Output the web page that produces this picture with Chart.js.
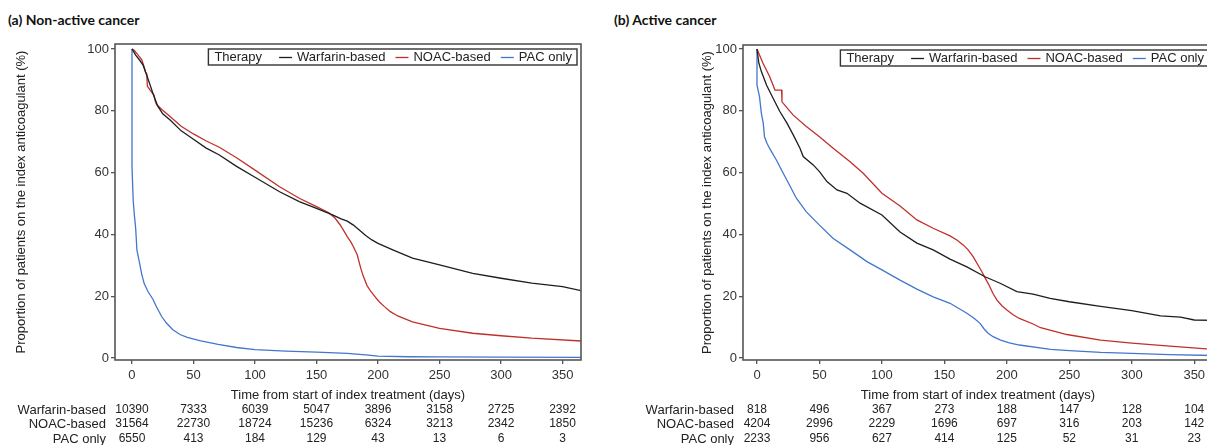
<!DOCTYPE html>
<html>
<head>
<meta charset="utf-8">
<script src="https://cdn.jsdelivr.net/npm/chart.js@4"></script>
<style>
    html, body { margin: 0; padding: 0; background: #fff; overflow: hidden; width: 1207px; height: 445px; }
    .panel-title { position: absolute; top: 11px; font: bold 14px Lato, sans-serif; color: #111; }
    canvas { position: absolute; top: 0; }
</style>
</head>
<body>
<div class="panel-title" style="left: 8px;">(a) Non-active cancer</div>
<div class="panel-title" style="left: 614px;">(b) Active cancer</div>
<canvas id="chartA" width="600" height="445" style="left: 0;"></canvas>
<canvas id="chartB" width="630" height="445" style="left: 600px;"></canvas>
<script>
// =============================================================================
// 데이터
// =============================================================================
const seriesLabels = ["Warfarin-based", "NOAC-based", "PAC only"];
const seriesColors = ["#1e1e1e", "#c0302b", "#4277cc"];
const legendTitle = "Therapy";

const dayTicks = [0, 50, 100, 150, 200, 250, 300, 350];
const pctTicks = [0, 20, 40, 60, 80, 100];

// (a) Non-active cancer
const aWarfarinDays = [0, 3, 6, 9, 12, 15, 18, 21, 25, 31, 40, 50, 60, 71, 85, 100, 120, 136, 150, 163, 170, 175, 180, 185, 190, 195, 200, 212, 228, 250, 277, 300, 325, 350, 365];
const aWarfarinPct  = [100, 98, 96.5, 94.8, 91.5, 88, 84.5, 81.5, 79, 77, 73.5, 70.8, 68, 65.7, 62, 58.5, 53.8, 50.6, 48.4, 46.3, 45, 44.3, 43, 41.3, 39.6, 38.2, 37.1, 35, 32.3, 30.1, 27.4, 25.8, 24.2, 23.1, 21.8];

const aNoacDays = [0, 2, 4, 6, 8, 10, 11, 12, 12.5, 15, 18, 19, 20, 24, 30, 40, 50, 60, 71, 85, 100, 120, 136, 150, 160, 165, 169, 172, 175, 178, 180, 183, 186, 188, 191, 194, 198, 201, 205, 210, 216, 228, 250, 277, 300, 325, 365];
const aNoacPct  = [100, 99.5, 98.5, 97.5, 96.5, 94, 92.5, 92, 88, 86.5, 85, 83, 82, 80.5, 78.5, 75, 72.5, 70.3, 68.2, 64.8, 60.8, 55.4, 51.7, 49, 47, 45.3, 43.2, 41.3, 39.3, 37.5, 36, 33.5, 29, 26.5, 23.5, 21.6, 19.6, 18.2, 16.7, 15, 13.6, 11.7, 9.6, 8, 7.2, 6.4, 5.5];

const aPacDays = [0, 0, 1, 2, 3, 4, 6, 8, 10, 13, 17, 20, 24, 28, 33, 39, 45, 55, 70, 85, 100, 125, 150, 175, 190, 200, 225, 250, 300, 365];
const aPacPct  = [100, 62, 51, 46, 42, 35, 31, 27, 24, 21.5, 19, 16.5, 13.5, 11.3, 9.2, 7.6, 6.7, 5.6, 4.4, 3.4, 2.7, 2.2, 1.9, 1.5, 1, 0.6, 0.4, 0.35, 0.25, 0.2];

const aRiskWarfarin = [10390, 7333, 6039, 5047, 3896, 3158, 2725, 2392];
const aRiskNoac     = [31564, 22730, 18724, 15236, 6324, 3213, 2342, 1850];
const aRiskPac      = [6550, 413, 184, 129, 43, 13, 6, 3];

// (b) Active cancer
const bWarfarinDays = [0, 1.5, 3.5, 7.7, 13, 18.4, 24, 29, 34.4, 37, 45, 50, 56, 64, 72, 82.5, 100, 114.5, 128, 141, 154.5, 168, 182.5, 194.6, 208, 221, 234.6, 250, 275, 300, 323, 339, 350, 365];
const bWarfarinPct  = [100, 95.4, 92.7, 88.3, 84, 79.7, 76, 72.2, 67.9, 65.2, 62.5, 60.3, 57.1, 54.4, 53.3, 50.1, 46.3, 40.8, 37.2, 35, 32, 29.5, 26.3, 24.2, 21.5, 20.7, 19.3, 18.2, 16.7, 15.3, 13.6, 13.2, 12.3, 12.2];

const bNoacDays = [0, 4.8, 10.2, 14.4, 19.7, 20, 29, 39.5, 50, 61, 74.5, 85, 100, 114.5, 128, 141, 154.5, 160, 165, 169, 173, 177, 180, 183, 186, 189, 192, 196, 200, 205, 210, 221, 227, 248, 275, 300, 328, 365];
const bNoacPct  = [100, 95.4, 91, 86.7, 86.7, 82.9, 78.6, 74.9, 71.6, 67.9, 63.5, 59.8, 53.3, 49.2, 44.7, 42, 39.5, 38.2, 36.6, 35, 32.8, 30, 27.9, 25.6, 23.4, 20.8, 18.8, 16.9, 15.5, 14, 12.8, 11, 9.8, 7.6, 5.8, 4.8, 3.9, 2.8];

const bPacDays = [0, 0, 2, 3.5, 5, 6, 8, 10, 15.5, 21, 26, 31.5, 39.5, 50, 61, 74.5, 88, 100, 114.5, 128, 141, 154.5, 168, 174, 178.5, 182, 185, 189, 195, 202, 210, 235, 250, 275, 300, 330, 365];
const bPacPct  = [100, 88.3, 84.6, 79.2, 76, 71.6, 69.5, 67.9, 64.1, 59.8, 56, 51.7, 47.3, 43, 38.7, 35, 31.2, 28.5, 25.2, 22.3, 19.8, 17.7, 14.5, 12.8, 11.2, 9.3, 8, 6.9, 5.8, 4.9, 4.2, 2.8, 2.4, 1.8, 1.5, 1.1, 0.8];

const bRiskWarfarin = [818, 496, 367, 273, 188, 147, 128, 104];
const bRiskNoac     = [4204, 2996, 2229, 1696, 697, 316, 203, 142];
const bRiskPac      = [2233, 956, 627, 414, 125, 52, 31, 23];


// =============================================================================
// 공통 설정
// =============================================================================
Chart.defaults.font.family = '"Liberation Sans", Arial, sans-serif';
Chart.defaults.font.size = 13;
Chart.defaults.color = "#2a2a2a";

const FONT = '13px "Liberation Sans", Arial, sans-serif';
const RISK_FONT = '12px "Liberation Sans", Arial, sans-serif';

function toPoints(days, pct) {
    return days.map((d, i) => ({ x: d, y: pct[i] }));
}

// 프레임 + 범례 + at-risk 표
function makeExtras(riskRows) {
    return {
        id: "kmExtras",
        afterDraw(chart) {
            const ctx = chart.ctx;
            const area = chart.chartArea;
            ctx.save();

            // frame
            ctx.strokeStyle = "#555";
            ctx.lineWidth = 1.6;
            ctx.strokeRect(area.left, area.top, area.right - area.left, area.bottom - area.top);

            // legend
            ctx.font = FONT;
            const items = chart.data.datasets.map((ds) => ({
                label: ds.label,
                color: ds.borderColor,
                w: ctx.measureText(ds.label).width,
            }));
            const titleW = ctx.measureText(legendTitle).width;
            let total = 6 + titleW + 17;
            items.forEach((it, i) => {
                total += 13 + 5 + it.w + (i < items.length - 1 ? 10 : 5);
            });
            const h = 16;
            const right = area.right - 4;
            const top = area.top + 5;
            const left = right - total;
            ctx.fillStyle = "#fff";
            ctx.fillRect(left, top, total, h);
            ctx.strokeStyle = "#333";
            ctx.lineWidth = 1.4;
            ctx.strokeRect(left, top, total, h);

            const midY = top + h / 2 + 0.5;
            ctx.textBaseline = "middle";
            ctx.textAlign = "left";
            ctx.fillStyle = "#222";
            let x = left + 6;
            ctx.fillText(legendTitle, x, midY);
            x += titleW + 17;
            items.forEach((it) => {
                ctx.strokeStyle = it.color;
                ctx.lineWidth = 1.3;
                ctx.beginPath();
                ctx.moveTo(x, midY);
                ctx.lineTo(x + 13, midY);
                ctx.stroke();
                x += 13 + 5;
                ctx.fillStyle = "#222";
                ctx.fillText(it.label, x, midY);
                x += it.w + 10;
            });

            // number at risk
            const xScale = chart.scales.x;
            const rowOffsets = [50, 64, 79];
            riskRows.forEach((row, i) => {
                const y = area.bottom + rowOffsets[i];
                ctx.font = FONT;
                ctx.textAlign = "right";
                ctx.fillText(row.label, area.left - 9, y);
                ctx.font = RISK_FONT;
                ctx.textAlign = "center";
                row.counts.forEach((n, j) => {
                    ctx.fillText(String(n), xScale.getPixelForValue(dayTicks[j]), y);
                });
            });

            ctx.restore();
        },
    };
}

function makeChart(canvasId, opts) {
    const datasets = opts.series.map((s, i) => ({
        label: seriesLabels[i],
        data: toPoints(s.days, s.pct),
        borderColor: seriesColors[i],
        backgroundColor: seriesColors[i],
        borderWidth: 1.3,
        pointRadius: 0,
        tension: 0,
        fill: false,
    }));

    return new Chart(document.getElementById(canvasId), {
        type: "line",
        data: { datasets },
        options: {
            responsive: false,
            animation: false,
            events: [],
            layout: { padding: { top: opts.padTop, right: opts.padRight, left: 0, bottom: 0 } },
            plugins: {
                legend: { display: false },
                tooltip: { enabled: false },
            },
            scales: {
                x: {
                    type: "linear",
                    min: opts.xMin,
                    max: 365,
                    afterBuildTicks: (s) => { s.ticks = dayTicks.map((v) => ({ value: v })); },
                    afterFit: (s) => { s.height = 85; },
                    border: { display: false },
                    grid: { drawOnChartArea: false, drawTicks: true, tickLength: 4, color: "#555", lineWidth: 1.3 },
                    ticks: { autoSkip: false, maxRotation: 0, padding: 4, color: "#333" },
                    title: {
                        display: true,
                        text: "Time from start of index treatment (days)",
                        color: "#222",
                        padding: { top: 0, bottom: 42 },
                    },
                },
                y: {
                    min: -0.65,
                    max: opts.yMax,
                    afterBuildTicks: (s) => { s.ticks = pctTicks.map((v) => ({ value: v })); },
                    afterFit: (s) => { s.width = opts.yWidth; },
                    border: { display: false },
                    grid: { drawOnChartArea: false, drawTicks: true, tickLength: 4, color: "#555", lineWidth: 1.3 },
                    ticks: { padding: 2, color: "#333" },
                    title: {
                        display: true,
                        text: "Proportion of patients on the index anticoagulant (%)",
                        color: "#222",
                        padding: { top: opts.yTitlePad, bottom: 0 },
                    },
                },
            },
        },
        plugins: [makeExtras(opts.riskRows)],
    });
}


// =============================================================================
// 차트 생성
// =============================================================================
makeChart("chartA", {
    series: [
        { days: aWarfarinDays, pct: aWarfarinPct },
        { days: aNoacDays, pct: aNoacPct },
        { days: aPacDays, pct: aPacPct },
    ],
    riskRows: [
        { label: seriesLabels[0], counts: aRiskWarfarin },
        { label: seriesLabels[1], counts: aRiskNoac },
        { label: seriesLabels[2], counts: aRiskPac },
    ],
    xMin: -13.8,
    yMax: 101.6,
    padTop: 44,
    padRight: 19,
    yWidth: 115,
    yTitlePad: 14,
});

makeChart("chartB", {
    series: [
        { days: bWarfarinDays, pct: bWarfarinPct },
        { days: bNoacDays, pct: bNoacPct },
        { days: bPacDays, pct: bPacPct },
    ],
    riskRows: [
        { label: seriesLabels[0], counts: bRiskWarfarin },
        { label: seriesLabels[1], counts: bRiskNoac },
        { label: seriesLabels[2], counts: bRiskPac },
    ],
    xMin: -11.2,
    yMax: 101.3,
    padTop: 45,
    padRight: 17,
    yWidth: 143,
    yTitlePad: 100,
});
</script>
</body>
</html>
